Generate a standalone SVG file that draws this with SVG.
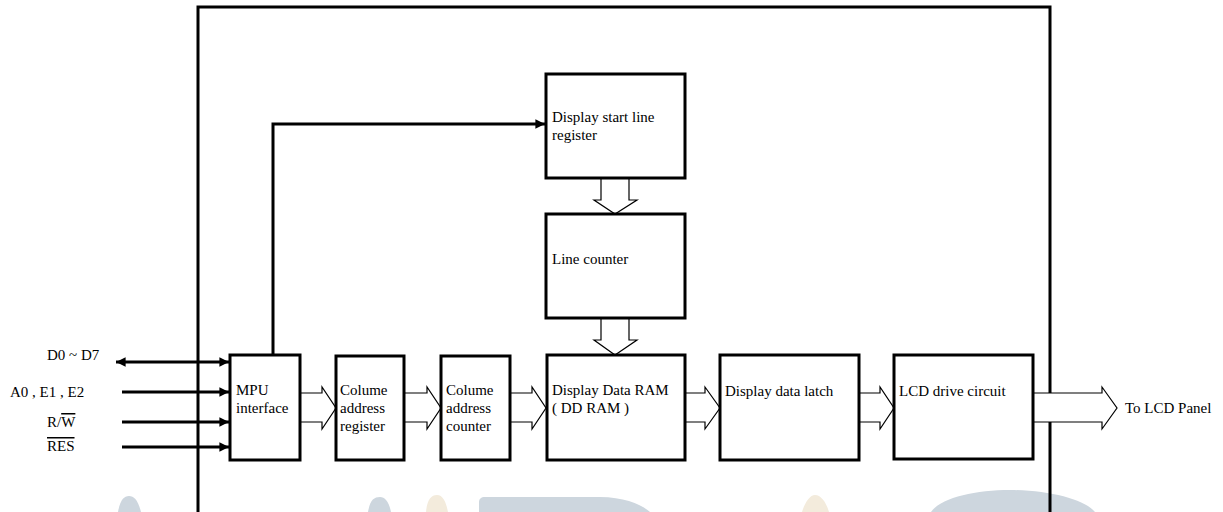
<svg xmlns="http://www.w3.org/2000/svg" width="1223" height="512" viewBox="0 0 1223 512">
<style>
.box{fill:#fff;stroke:#000;stroke-width:3}
.frame{fill:none;stroke:#000;stroke-width:3}
.bus{fill:#fff;stroke:#000;stroke-width:1.2;stroke-linejoin:miter}
.sig{fill:none;stroke:#000;stroke-width:3}
text{font-family:"Liberation Serif","Times New Roman",serif;font-size:15px;fill:#000}
.wb{fill:#cdd6de}
.wy{fill:#f3ebdc}
</style>
<defs>
<marker id="ah" viewBox="0 0 10 10" refX="10" refY="5" markerWidth="3.6" markerHeight="3.2" markerUnits="strokeWidth" orient="auto-start-reverse">
<path d="M0,0 L10,5 L0,10 Z" fill="#000"/>
</marker>
</defs>
<g id="watermark">
<path class="wb" d="M118,512 C120,500 124,496 129,496 C134,496 138,500 141,512 Z"/>
<path class="wb" d="M368,512 C370,500 374,497 380,497 C385,497 389,502 391,512 Z"/>
<path class="wy" d="M426,512 C427,500 431,495 437,495 C443,495 446,502 448,512 Z"/>
<path class="wb" d="M479,512 V502 C479,499 481,497 485,497 H600 C625,497 642,505 650,512 Z"/>
<path class="wy" d="M802,512 C805,502 810,495 815,495 C821,495 826,502 829,512 Z"/>
<path class="wb" d="M931,512 C940,498 975,490 1010,490 C1050,490 1085,500 1095,512 Z"/>
</g>
<path id="frame" class="frame" d="M198,515 V7 H1050 V515"/>
<g id="connectors">
<path class="sig" d="M273,355 V124 H545" marker-end="url(#ah)"/>
<line class="sig" x1="116" y1="362" x2="229" y2="362" marker-start="url(#ah)" marker-end="url(#ah)"/>
<line class="sig" x1="122" y1="392" x2="229" y2="392" marker-end="url(#ah)"/>
<line class="sig" x1="122" y1="422" x2="229" y2="422" marker-end="url(#ah)"/>
<line class="sig" x1="122" y1="447" x2="229" y2="447" marker-end="url(#ah)"/>
<path class="bus" d="M300,393 H322 V387 L336,408 L322,429 V422 H300"/>
<path class="bus" d="M404,393 H427 V387 L441,408 L427,429 V422 H404"/>
<path class="bus" d="M510,393 H532 V387 L546,408 L532,429 V422 H510"/>
<path class="bus" d="M685,393 H705 V387 L720,408 L705,429 V422 H685"/>
<path class="bus" d="M859,393 H880 V387 L894,408 L880,429 V422 H859"/>
<path class="bus" d="M1033,393 H1102 V387 L1117,408 L1102,429 V422 H1033"/>
<path class="bus" d="M601,178 V200 H594 L615,214 L637,200 H629 V178"/>
<path class="bus" d="M601,318 V340 H594 L615,355 L637,340 H629 V318"/>
</g>
<g id="labels">
<text x="47" y="360">D0 ~ D7</text>
<text x="10" y="397">A0 , E1 , E2</text>
<text x="47" y="427">R/<tspan text-decoration="overline">W</tspan></text>
<text x="47" y="451" text-decoration="overline">RES</text>
<text x="1125" y="413">To LCD Panel</text>
</g>
<g id="start-line-register">
<rect class="box" x="546" y="74" width="139" height="104"/>
<text x="552" y="122">Display start line</text>
<text x="552" y="140">register</text>
</g>
<g id="line-counter">
<rect class="box" x="546" y="214" width="139" height="104"/>
<text x="552" y="264">Line counter</text>
</g>
<g id="mpu-interface">
<rect class="box" x="230" y="355" width="70" height="105"/>
<text x="236" y="395">MPU</text>
<text x="236" y="413">interface</text>
</g>
<g id="column-address-register">
<rect class="box" x="336" y="356" width="68" height="104"/>
<text x="340" y="395">Colume</text>
<text x="340" y="413">address</text>
<text x="340" y="431">register</text>
</g>
<g id="column-address-counter">
<rect class="box" x="441" y="356" width="69" height="104"/>
<text x="446" y="395">Colume</text>
<text x="446" y="413">address</text>
<text x="446" y="431">counter</text>
</g>
<g id="dd-ram">
<rect class="box" x="547" y="355" width="138" height="105"/>
<text x="552" y="395">Display Data RAM</text>
<text x="552" y="413">( DD RAM )</text>
</g>
<g id="display-data-latch">
<rect class="box" x="720" y="355" width="139" height="105"/>
<text x="725" y="396">Display data latch</text>
</g>
<g id="lcd-drive-circuit">
<rect class="box" x="894" y="355" width="139" height="104"/>
<text x="899" y="396">LCD drive circuit</text>
</g>
</svg>
